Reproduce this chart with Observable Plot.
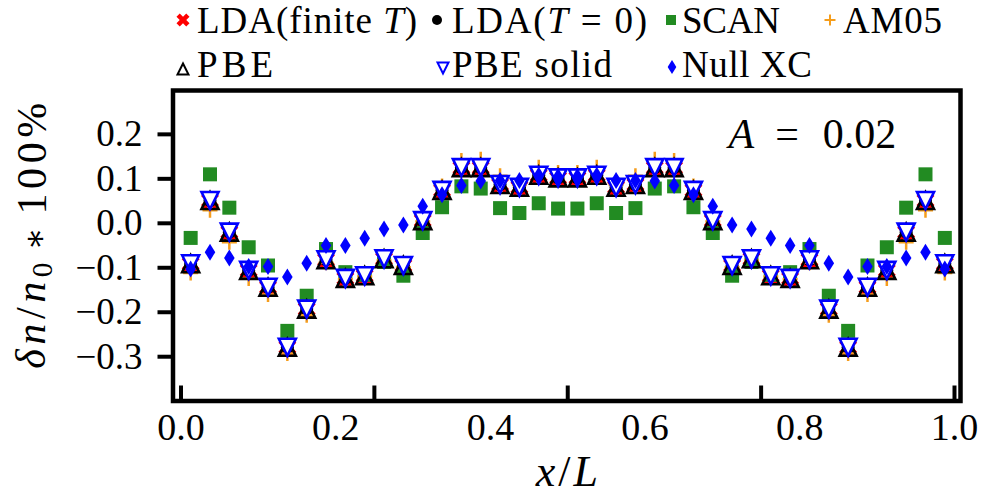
<!DOCTYPE html>
<html><head><meta charset="utf-8">
<script src="https://cdn.jsdelivr.net/npm/d3@7"></script>
<script src="https://cdn.jsdelivr.net/npm/@observablehq/plot@0.6"></script>
<style>
body{margin:0;background:#fff;width:984px;height:502px;overflow:hidden;}
#legend{height:85px;}
#legend svg,#chart svg{display:block;}
</style></head>
<body><div id="legend"></div><div id="chart"></div>
<script>
// pick an installed serif face (closest to Computer Modern)
const candidates = ["Liberation Serif","DejaVu Serif","Tinos","Times New Roman","Noto Serif","FreeSerif","Nimbus Roman"];
function has(f){ const c=document.createElement("canvas").getContext("2d"); const s="mmmWWWiiilll0.123ABCxyz";
  return ["monospace","sans-serif"].some(b=>{c.font=`40px ${b}`; const w0=c.measureText(s).width; c.font=`40px "${f}", ${b}`; return c.measureText(s).width!==w0;}); }
const found = candidates.filter(has);
const FONT = (found.length? found.map(f=>`"${f}"`).join(", ")+", ":"") + "serif";
document.body.setAttribute("data-fonts", found.join("|"));

// ---- data (x/L positions and δn/n0*100% values) ----
const xPos = [0.0125,0.0375,0.0625,0.0875,0.1125,0.1375,0.1625,0.1875,0.2125,0.2375,
              0.2625,0.2875,0.3125,0.3375,0.3625,0.3875,0.4125,0.4375,0.4625,0.4875,
              0.5125,0.5375,0.5625,0.5875,0.6125,0.6375,0.6625,0.6875,0.7125,0.7375,
              0.7625,0.7875,0.8125,0.8375,0.8625,0.8875,0.9125,0.9375,0.9625,0.9875];
const ldaFiniteT = [-0.092,0.050,-0.021,-0.107,-0.145,-0.280,-0.194,-0.083,-0.125,-0.119,
                    -0.081,-0.096,0.005,0.073,0.124,0.124,0.086,0.080,0.107,0.101,
                    0.101,0.107,0.080,0.086,0.124,0.124,0.073,0.005,-0.096,-0.081,
                    -0.119,-0.125,-0.083,-0.194,-0.280,-0.145,-0.107,-0.021,0.050,-0.092];
const ldaZeroT   = [-0.092,0.050,-0.021,-0.107,-0.145,-0.280,-0.194,-0.083,-0.125,-0.119,
                    -0.081,-0.096,0.005,0.073,0.124,0.124,0.086,0.080,0.107,0.101,
                    0.101,0.107,0.080,0.086,0.124,0.124,0.073,0.005,-0.096,-0.081,
                    -0.119,-0.125,-0.083,-0.194,-0.280,-0.145,-0.107,-0.021,0.050,-0.092];
const scan       = [-0.034,0.109,0.034,-0.055,-0.096,-0.243,-0.164,-0.059,-0.111,-0.117,
                    -0.088,-0.119,-0.023,0.035,0.082,0.077,0.033,0.022,0.044,0.032,
                    0.032,0.044,0.022,0.033,0.077,0.082,0.035,-0.023,-0.119,-0.088,
                    -0.117,-0.111,-0.059,-0.164,-0.243,-0.096,-0.055,0.034,0.109,-0.034];
const am05       = [-0.113,0.028,-0.044,-0.125,-0.161,-0.294,-0.208,-0.090,-0.127,-0.121,
                    -0.085,-0.100,0.003,0.083,0.140,0.143,0.106,0.085,0.125,0.113,
                    0.113,0.125,0.085,0.106,0.143,0.140,0.083,0.003,-0.100,-0.085,
                    -0.121,-0.127,-0.090,-0.208,-0.294,-0.161,-0.125,-0.044,0.028,-0.113];
const pbe        = [-0.092,0.050,-0.021,-0.107,-0.145,-0.280,-0.194,-0.083,-0.125,-0.119,
                    -0.081,-0.096,0.005,0.073,0.124,0.124,0.086,0.080,0.107,0.101,
                    0.101,0.107,0.080,0.086,0.124,0.124,0.073,0.005,-0.096,-0.081,
                    -0.119,-0.125,-0.083,-0.194,-0.280,-0.145,-0.107,-0.021,0.050,-0.092];
const pbeSolid   = [-0.092,0.050,-0.021,-0.107,-0.145,-0.280,-0.194,-0.083,-0.125,-0.119,
                    -0.081,-0.096,0.005,0.073,0.124,0.124,0.086,0.080,0.107,0.101,
                    0.101,0.107,0.080,0.086,0.124,0.124,0.073,0.005,-0.096,-0.081,
                    -0.119,-0.125,-0.083,-0.194,-0.280,-0.145,-0.107,-0.021,0.050,-0.092];
const nullXC     = [-0.104,-0.066,-0.079,-0.098,-0.098,-0.122,-0.091,-0.051,-0.051,-0.035,
                    -0.014,-0.005,0.037,0.063,0.084,0.094,0.095,0.095,0.107,0.104,
                    0.104,0.107,0.095,0.095,0.094,0.084,0.063,0.037,-0.005,-0.014,
                    -0.035,-0.051,-0.051,-0.091,-0.122,-0.098,-0.098,-0.079,-0.066,-0.104];
const seriesNames = ["LDA(finite T)","LDA(T = 0)","SCAN","AM05","PBE","PBE solid","Null XC"];
const yTicks = [-0.3,-0.2,-0.1,0.0,0.1,0.2];
const xTickLabels = [0.0,0.2,0.4,0.6,0.8,1.0];
const xTickMarks = [0.0,0.25,0.5,0.75,1.0];
const annotation = "A = 0.02";
const xLabel = "x/L";
const yLabel = "δn/n0 * 100%";

// ---- marker shapes ----
const sym = f => ({draw(c, size){ f(c, Math.sqrt(size/Math.PI)); }});
const symX = sym((c,r)=>{const a=r/3,k=Math.SQRT1_2;
  [[-a,-r],[a,-r],[a,-a],[r,-a],[r,a],[a,a],[a,r],[-a,r],[-a,a],[-r,a],[-r,-a],[-a,-a]]
  .forEach(([x,y],i)=>{const X=(x-y)*k,Y=(x+y)*k; i?c.lineTo(X,Y):c.moveTo(X,Y);}); c.closePath();});
const symCircle = sym((c,r)=>{c.moveTo(r,0); c.arc(0,0,r,0,2*Math.PI); c.closePath();});
const symSquare = sym((c,r)=>{c.rect(-r,-r,2*r,2*r);});
const symPlus = sym((c,r)=>{c.moveTo(-r,0);c.lineTo(r,0);c.moveTo(0,-r);c.lineTo(0,r);});
const symTriUp = sym((c,r)=>{c.moveTo(0,-r);c.lineTo(r,r);c.lineTo(-r,r);c.closePath();});
const symTriDown = sym((c,r)=>{c.moveTo(-r,-r);c.lineTo(r,-r);c.lineTo(0,r);c.closePath();});
const symDiamond = sym((c,r)=>{c.moveTo(0,-r);c.lineTo(0.62*r,0);c.lineTo(0,r);c.lineTo(-0.62*r,0);c.closePath();});

const series = [
  {values: ldaFiniteT, symbol: symX, r: 9.5, lr: 6.9, fill: "#ff0000", stroke: "none", sw: 0, lsw: 0},
  {values: ldaZeroT, symbol: symCircle, r: 6.5, lr: 5, fill: "#000000", stroke: "none", sw: 0, lsw: 0},
  {values: scan, symbol: symSquare, r: 7, lr: 5, fill: "#228b22", stroke: "none", sw: 0, lsw: 0},
  {values: am05, symbol: symPlus, r: 7.5, lr: 5.5, fill: "none", stroke: "#f59d1c", sw: 2.5, lsw: 2},
  {values: pbe, symbol: symTriUp, r: 8.5, lr: 5.5, fill: "none", stroke: "#000000", sw: 2.6, lsw: 2},
  {values: pbeSolid, symbol: symTriDown, r: 8.5, lr: 5.5, fill: "#ffffff", stroke: "#0000ff", sw: 2.6, lsw: 2},
  {values: nullXC, symbol: symDiamond, r: 8.5, lr: 7, fill: "#0000ff", stroke: "none", sw: 0, lsw: 0}
];

// ---- legend (above the svg) ----
const legendPos = [
  {sx:183, sy:20, tx:197, ty:33, w:220},
  {sx:437, sy:20, tx:452, ty:33, w:195},
  {sx:671, sy:20, tx:682, ty:33, w:98},
  {sx:830, sy:20, tx:843, ty:33, w:99},
  {sx:183, sy:69, tx:197, ty:77, w:76},
  {sx:443, sy:68, tx:452, ty:77, w:160},
  {sx:672, sy:67, tx:682, ty:77, w:130}
];
const leg = d3.select("#legend").append("svg").attr("width",984).attr("height",85)
  .style("font-family", FONT);
series.forEach((s,i)=>{
  const p = legendPos[i];
  const path = d3.path(); s.symbol.draw(path, s.lr*s.lr*Math.PI);
  leg.append("path").attr("d", path.toString()).attr("transform",`translate(${p.sx},${p.sy})`)
    .attr("fill", s.fill).attr("stroke", s.stroke).attr("stroke-width", s.lsw);
  const t = leg.append("text").attr("x", p.tx).attr("y", p.ty).attr("font-size", 37)
    .attr("textLength", p.w).attr("lengthAdjust","spacing");
  t.html(seriesNames[i].replace(/\bT\b/, '<tspan font-style="italic">T</tspan>'));
});

// ---- plot ----
const W = 984, H = 417, mL = 172.5, mR = 24, mT = 5, mB = 101.5;
const fmt = d3.format(".1f");
const plot = Plot.plot({
  width: W, height: H,
  marginLeft: mL, marginRight: mR, marginTop: mT, marginBottom: mB,
  style: {fontFamily: FONT, background: "white", color: "black", overflow: "visible"},
  x: {domain: [-0.01034, 1.00776]},
  y: {domain: [-0.4007, 0.2975]},
  marks: [
    Plot.axisY(yTicks, {tickSize: 15, tickPadding: 15.5, strokeWidth: 4, fontSize: 37, tickFormat: fmt, label: null, dy: 0.5}),
    Plot.axisX(xTickLabels, {tickSize: 0, tickPadding: 12.5, fontSize: 38, tickFormat: fmt, label: null}),
    Plot.tickX(xTickMarks, {x: d => d, stroke: "black", strokeWidth: 4, insetTop: (H - mT - mB) - 15}),
    Plot.frame({stroke: "black", strokeWidth: 4.5}),
    ...series.map(s => Plot.dot(xPos, {x: xPos, y: s.values, symbol: s.symbol, r: s.r,
        fill: s.fill, stroke: s.stroke, strokeWidth: s.sw})),
    Plot.text([annotation], {text: d => d, frameAnchor: "top-right", textAnchor: "start", lineAnchor: "bottom",
        dx: -232, dy: 57, fontSize: 42}),
    Plot.text([xLabel], {text: d => d, frameAnchor: "bottom", textAnchor: "middle", lineAnchor: "bottom",
        dy: 84.5, fontSize: 44}),
    Plot.text([yLabel], {text: d => d, frameAnchor: "left", textAnchor: "middle", lineAnchor: "middle",
        rotate: -90, dx: -141.5, dy: -10, fontSize: 42})
  ]
});
document.getElementById("chart").appendChild(plot);
plot.querySelectorAll("text").forEach(t => t.style.fontFamily = FONT);

// rich text (italic math symbols) for the labels
const texts = Array.from(plot.querySelectorAll("text"));
const find = s => texts.find(t => t.textContent === s);
const ann = find(annotation);
if (ann) ann.innerHTML = '<tspan font-style="italic">A</tspan><tspan dx="21">=</tspan><tspan dx="24">0.02</tspan>';
const xl = find(xLabel);
if (xl) xl.innerHTML = '<tspan font-style="italic">x</tspan><tspan dx="3">/</tspan><tspan font-style="italic" dx="3">L</tspan>';
const yl = find(yLabel);
if (yl) { yl.innerHTML = '<tspan font-style="italic">δn</tspan>/<tspan font-style="italic">n</tspan><tspan font-size="0.7em" dy="0.25em">0</tspan><tspan dy="-0.18em" dx="8" font-size="0.8em">∗</tspan><tspan dx="8">100%</tspan>';
  yl.setAttribute("textLength", 266); yl.setAttribute("lengthAdjust", "spacing"); }
</script>
</body></html>
